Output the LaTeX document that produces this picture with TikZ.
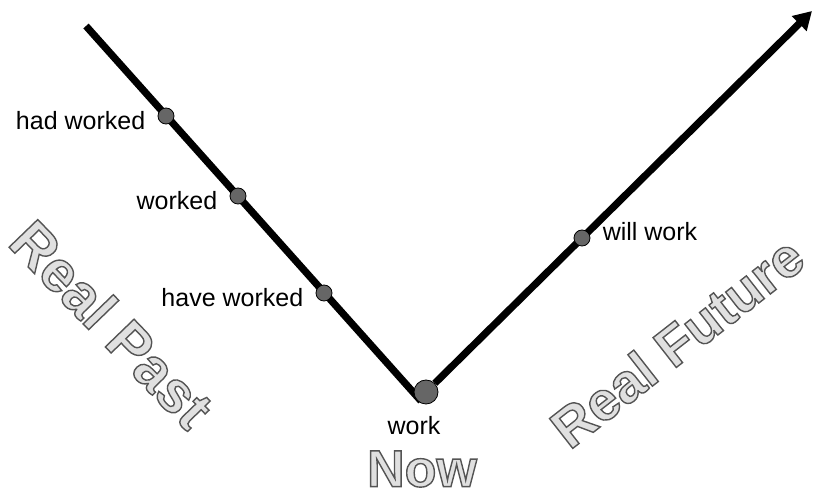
\documentclass[tikz,border=0pt]{standalone}
\usepackage{fontspec}
\setmainfont{Liberation Sans}
\usetikzlibrary{arrows.meta,positioning,backgrounds}
\definecolor{dotgray}{HTML}{666666}
\definecolor{ghost}{HTML}{E0E0E0}
% hollow lettering: fill with the text colour, stroke in dark grey
\newcommand\hollow[1]{\special{pdf:literal direct q 2 Tr 0.7 w 0.33 G}#1\special{pdf:literal direct Q}}

\begin{document}
\begin{tikzpicture}[
  x=0.5pt, y=-0.5pt,
  node distance=6pt,
  tense/.style={circle, draw=black, line width=0.4pt, fill=dotgray, minimum size=8pt, inner sep=0pt},
  nowdot/.style={tense, minimum size=12pt},
  lbl/.style={font=\fontsize{12.5}{14}\selectfont, inner sep=0pt},
  big/.style={font=\fontsize{29}{32}\selectfont\bfseries, text=ghost, inner sep=0pt},
  axis/.style={line width=3.6pt, line cap=butt}
]
  \useasboundingbox (0,0) rectangle (815,497);

  % the two arms of the timeline
  \coordinate (past) at (86,26);
  \coordinate (vtx) at (421,401);
  \coordinate (tip) at (812,11);

  \node[nowdot] (d0) at (426,392) {};
  \node[tense] (d1) at (166,116) {};
  \node[tense] (d2) at (238,196) {};
  \node[tense] (d3) at (324,293) {};
  \node[tense] (d4) at (582,238) {};

  \begin{scope}[on background layer]
    \draw[axis] (past) -- (vtx);
    \draw[axis, -{Triangle[length=9pt, width=10pt]}] (d0) -- (tip);
  \end{scope}

  \node[lbl, left=6pt of d1, yshift=-2.5pt] (l1) {had worked};
  \node[lbl, left=6pt of d2, yshift=-2.5pt] (l2) {worked};
  \node[lbl, left=6pt of d3, yshift=-2.5pt] (l3) {have worked};
  \node[lbl, right=6pt of d4, yshift=3pt] (l4) {will work};
  \node[lbl, below=6pt of d0, xshift=-6pt] (l0) {work};

  % big outlined words
  \node[big, rotate=-46] (rpast) at (112,324) {\hollow{Real Past}};
  \node[big, rotate=38, font=\fontsize{27.5}{31}\selectfont\bfseries] (rfut) at (677,342) {\hollow{Real Future}};
  \node[big, font=\fontsize{26}{29}\selectfont\bfseries] (now) at (422,469) {\hollow{Now}};
\end{tikzpicture}
\end{document}
